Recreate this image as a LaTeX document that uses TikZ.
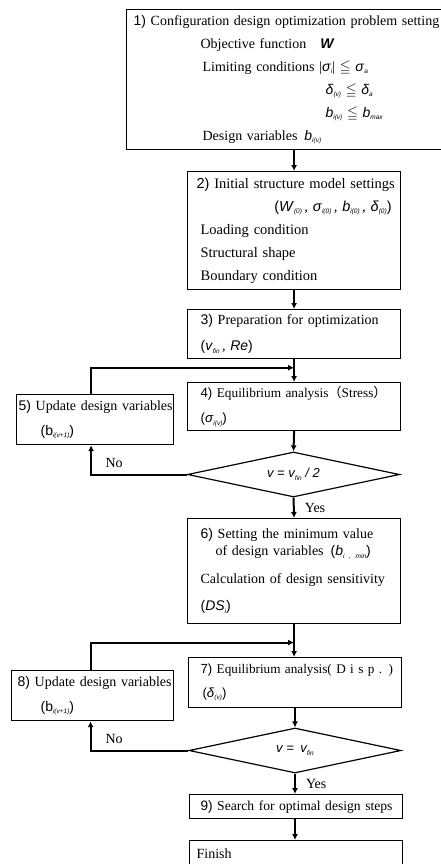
\documentclass[tikz,border=0pt]{standalone}
\usepackage{amssymb}
\usepackage{fontspec}
\setmainfont{Liberation Serif}
\setsansfont{Liberation Sans}
\newfontfamily\cjk{Noto Sans CJK JP}
\usetikzlibrary{shapes.geometric,arrows.meta,positioning,calc}

\newcommand{\ssub}[1]{\raisebox{-2.5pt}{\fontsize{6.5}{7}\selectfont\sffamily\itshape #1}}
\newcommand{\svar}[2]{\textsf{\textit{#1}}\ssub{#2}}
\newcommand{\snum}[1]{\textsf{#1)}}

\begin{document}
\begin{tikzpicture}[
    x=1pt, y=-1pt,
    font=\fontsize{14}{23}\selectfont,
    stepbox/.style={rectangle, draw, line width=1.2pt, align=left, inner ysep=0pt, anchor=north west},
    decision/.style={diamond, draw, line width=1.2pt, inner sep=0pt, aspect=4.7, minimum width=212pt, minimum height=45pt, font=\sffamily\itshape\fontsize{13}{14}\selectfont},
    flow/.style={line width=2pt, -{Latex[length=6pt,width=6pt]}},
    lbl/.style={font=\fontsize{14}{15}\selectfont, inner sep=2pt}
]
    \useasboundingbox (0,0) rectangle (440,864);

    % --- Steps ---
    \node[stepbox, text width=310pt, inner xsep=7pt, minimum height=140pt] (cfg) at (126,9)
        {\mbox{\snum{1} Configuration design optimization problem setting}\\
         \hspace*{67pt}Objective function\quad\textbf{\svar{W}{}}\\
         \hspace*{69pt}Limiting conditions |\svar{σ}{i}| $\leqq$ \svar{σ}{a}\\
         \hspace*{192pt}\svar{δ}{(v)} $\leqq$ \svar{δ}{a}\\
         \hspace*{192pt}\svar{b}{i(v)} $\leqq$ \svar{b}{max}\\
         \hspace*{69pt}Design variables\enspace\svar{b}{i(v)}};
    \node[stepbox, text width=195pt, inner xsep=9pt, minimum height=118pt, font=\fontsize{14.5}{23}\selectfont] (init) at (187,171)
        {\mbox{\snum{2} Initial structure model settings}\\
         \hspace*{\fill}\textsf{(}\svar{W}{(0)}\,, \svar{σ}{i(0)}\,, \svar{b}{i(0)}\,, \svar{δ}{(0)}\textsf{)}\\
         \hspace*{4pt}Loading condition\\
         \hspace*{4pt}Structural shape\\
         \hspace*{4pt}Boundary condition};
    \node[stepbox, text width=187pt, inner xsep=13pt, minimum height=49pt] (prep) at (187,309)
        {\mbox{\snum{3} Preparation for optimization}\\[3pt]
         \textsf{(}\svar{v}{fin}\,, \textsf{\textit{Re}}\textsf{)}};
    \node[stepbox, text width=187pt, inner xsep=13pt, minimum height=48pt, font=\fontsize{13.3}{23}\selectfont] (eq1) at (187,382)
        {\mbox{\snum{4} Equilibrium analysis{\cjk （}Stress{\cjk ）}}\\[2pt]
         \textsf{(}\svar{σ}{i(v)}\textsf{)}};
    \node[stepbox, text width=153pt, inner xsep=2pt, minimum height=50pt] (upd1) at (16,394)
        {\mbox{\snum{5} Update design variables}\\[2pt]
         \hspace*{22pt}\textsf{(b}\ssub{i(v+1)}\textsf{)}};
    \node[decision] (dec1) at (293.5,474.5) {v = v\ssub{fin} / 2};
    \node[stepbox, text width=187pt, inner xsep=13pt, minimum height=105pt] (sens) at (187,518)
        {\mbox{\snum{6} Setting the minimum value}\\[-6pt]
         \hspace*{15pt}of design variables\enspace\textsf{(}\svar{b}{i , min}\textsf{)}\\[5pt]
         \mbox{Calculation of design sensitivity}\\[4pt]
         \textsf{(}\svar{DS}{i}\textsf{)}};
    \node[stepbox, text width=189pt, inner xsep=12pt, minimum height=50pt, font=\fontsize{13.2}{23}\selectfont] (eq2) at (188,657)
        {\mbox{\snum{7} Equilibrium analysis( D i s p . )}\\[1pt]
         \hspace*{2pt}\textsf{(}\svar{δ}{(v)}\textsf{)}};
    \node[stepbox, text width=150pt, inner xsep=6pt, minimum height=50pt] (upd2) at (11,670)
        {\mbox{\snum{8} Update design variables}\\[2pt]
         \hspace*{23pt}\textsf{(b}\ssub{i(v+1)}\textsf{)}};
    \node[decision] (dec2) at (295,750.5) {v =\enspace v\ssub{fin}};
    \node[stepbox, text width=191pt, inner xsep=11pt, minimum height=24pt, font=\fontsize{13.6}{23}\selectfont] (search) at (189,794)
        {\mbox{\snum{9} Search for optimal design steps}};
    \node[stepbox, text width=199pt, inner xsep=7pt, minimum height=26pt] (fin) at (189,840)
        {Finish};

    % --- Connectors ---
    \coordinate (j1) at ($(prep.south)!0.375!(eq1.north)$);
    \coordinate (j2) at ($(sens.south)!0.56!(sens.south |- eq2.north)$);
    \draw[flow] (cfg.south -| init.north) -- (init.north);
    \draw[flow] (init.south) -- (prep.north);
    \draw[flow] (prep.south) -- (eq1.north);
    \draw[flow] ([xshift=-4pt]upd1.north) |- (j1);
    \draw[flow] (eq1.south) -- (dec1.north);
    \draw[flow] (dec1.west) -| node[lbl, pos=0.38, above=4pt] (no1) {No} ([xshift=-4pt]upd1.south);
    \draw[flow] (dec1.south) -- node[lbl, right=8pt] (yes1) {Yes} (sens.north);
    \draw[flow] (sens.south) -- (sens.south |- eq2.north);
    \draw[flow] ([xshift=-2pt]upd2.north) |- (j2);
    \draw[flow] (eq2.south -| dec2.north) -- (dec2.north);
    \draw[flow] (dec2.west) -| node[lbl, pos=0.38, above=4pt] (no2) {No} ([xshift=-2pt]upd2.south);
    \draw[flow] (dec2.south) -- node[lbl, right=8pt] (yes2) {Yes} (dec2.south |- search.north);
    \draw[flow] (search.south -| dec2.south) -- (dec2.south |- fin.north);
\end{tikzpicture}
\end{document}
